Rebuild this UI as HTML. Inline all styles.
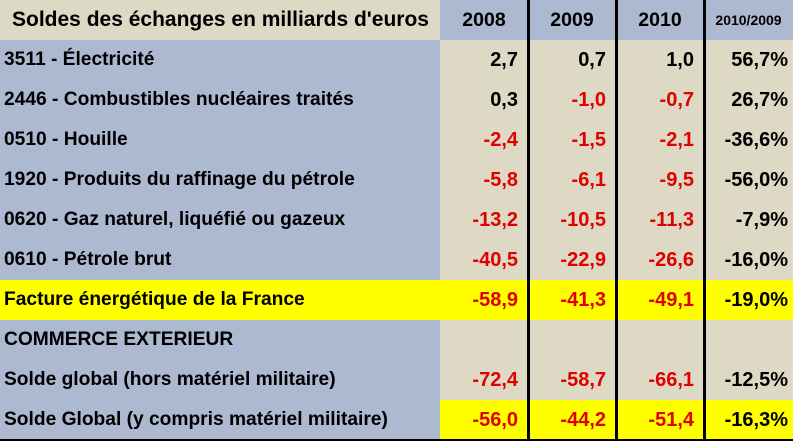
<!DOCTYPE html>
<html><head><style>
body{margin:0;width:793px;height:441px;background:#DDD9C4;font-family:"Liberation Sans",Arial,sans-serif;font-weight:bold;position:relative;overflow:hidden}
.c{position:absolute;height:40px;line-height:40px;box-sizing:border-box;font-size:19px;white-space:nowrap}
.l{left:0;width:440px;padding-left:4px;background:#ADB9D1;color:#000;font-size:19.2px}
.n{text-align:right;padding-right:10px;color:#E00000;font-size:20px}
.k{color:#000}
.y{background:#FFFF00}
.b{background:#DDD9C4}
.h{background:#ADB9D1;text-align:center;color:#000;font-size:19.5px}
.v{position:absolute;top:0;width:3px;height:441px;background:#000}
</style></head><body>
<div class="c b" style="left:0;top:0;width:440px;padding-left:12px;font-size:21px">Soldes des échanges en milliards d'euros</div>
<div class="c h" style="left:440px;top:0;width:88px">2008</div>
<div class="c h" style="left:528px;top:0;width:88px">2009</div>
<div class="c h" style="left:616px;top:0;width:88px">2010</div>
<div class="c h" style="left:704px;top:0;width:89px;font-size:14px">2010/2009</div>

<div class="c l" style="top:40px">3511 - Électricité</div>
<div class="c l" style="top:80px">2446 - Combustibles nucléaires traités</div>
<div class="c l" style="top:120px">0510 - Houille</div>
<div class="c l" style="top:160px">1920 - Produits du raffinage du pétrole</div>
<div class="c l" style="top:200px">0620 - Gaz naturel, liquéfié ou gazeux</div>
<div class="c l" style="top:240px">0610 - Pétrole brut</div>
<div class="c l y" style="top:280px">Facture énergétique de la France</div>
<div class="c l" style="top:320px">COMMERCE EXTERIEUR</div>
<div class="c l" style="top:360px">Solde global (hors matériel militaire)</div>
<div class="c l" style="top:400px">Solde Global (y compris matériel militaire)</div>

<div class="c y" style="left:440px;top:280px;width:353px"></div>
<div class="c y" style="left:440px;top:400px;width:353px"></div>

<div class="c n k" style="left:440px;top:40px;width:88px">2,7</div>
<div class="c n k" style="left:440px;top:80px;width:88px">0,3</div>
<div class="c n" style="left:440px;top:120px;width:88px">-2,4</div>
<div class="c n" style="left:440px;top:160px;width:88px">-5,8</div>
<div class="c n" style="left:440px;top:200px;width:88px">-13,2</div>
<div class="c n" style="left:440px;top:240px;width:88px">-40,5</div>
<div class="c n" style="left:440px;top:280px;width:88px">-58,9</div>
<div class="c n" style="left:440px;top:360px;width:88px">-72,4</div>
<div class="c n" style="left:440px;top:400px;width:88px">-56,0</div>

<div class="c n k" style="left:528px;top:40px;width:88px">0,7</div>
<div class="c n" style="left:528px;top:80px;width:88px">-1,0</div>
<div class="c n" style="left:528px;top:120px;width:88px">-1,5</div>
<div class="c n" style="left:528px;top:160px;width:88px">-6,1</div>
<div class="c n" style="left:528px;top:200px;width:88px">-10,5</div>
<div class="c n" style="left:528px;top:240px;width:88px">-22,9</div>
<div class="c n" style="left:528px;top:280px;width:88px">-41,3</div>
<div class="c n" style="left:528px;top:360px;width:88px">-58,7</div>
<div class="c n" style="left:528px;top:400px;width:88px">-44,2</div>

<div class="c n k" style="left:616px;top:40px;width:88px">1,0</div>
<div class="c n" style="left:616px;top:80px;width:88px">-0,7</div>
<div class="c n" style="left:616px;top:120px;width:88px">-2,1</div>
<div class="c n" style="left:616px;top:160px;width:88px">-9,5</div>
<div class="c n" style="left:616px;top:200px;width:88px">-11,3</div>
<div class="c n" style="left:616px;top:240px;width:88px">-26,6</div>
<div class="c n" style="left:616px;top:280px;width:88px">-49,1</div>
<div class="c n" style="left:616px;top:360px;width:88px">-66,1</div>
<div class="c n" style="left:616px;top:400px;width:88px">-51,4</div>

<div class="c n k" style="left:704px;top:40px;width:89px;padding-right:5px">56,7%</div>
<div class="c n k" style="left:704px;top:80px;width:89px;padding-right:5px">26,7%</div>
<div class="c n k" style="left:704px;top:120px;width:89px;padding-right:5px">-36,6%</div>
<div class="c n k" style="left:704px;top:160px;width:89px;padding-right:5px">-56,0%</div>
<div class="c n k" style="left:704px;top:200px;width:89px;padding-right:5px">-7,9%</div>
<div class="c n k" style="left:704px;top:240px;width:89px;padding-right:5px">-16,0%</div>
<div class="c n k" style="left:704px;top:280px;width:89px;padding-right:5px">-19,0%</div>
<div class="c n k" style="left:704px;top:360px;width:89px;padding-right:5px">-12,5%</div>
<div class="c n k" style="left:704px;top:400px;width:89px;padding-right:5px">-16,3%</div>

<div class="v" style="left:527px"></div>
<div class="v" style="left:615px"></div>
<div class="v" style="left:703px"></div>
<div style="position:absolute;left:0;top:439px;width:793px;height:2px;background:#000"></div>
</body></html>
